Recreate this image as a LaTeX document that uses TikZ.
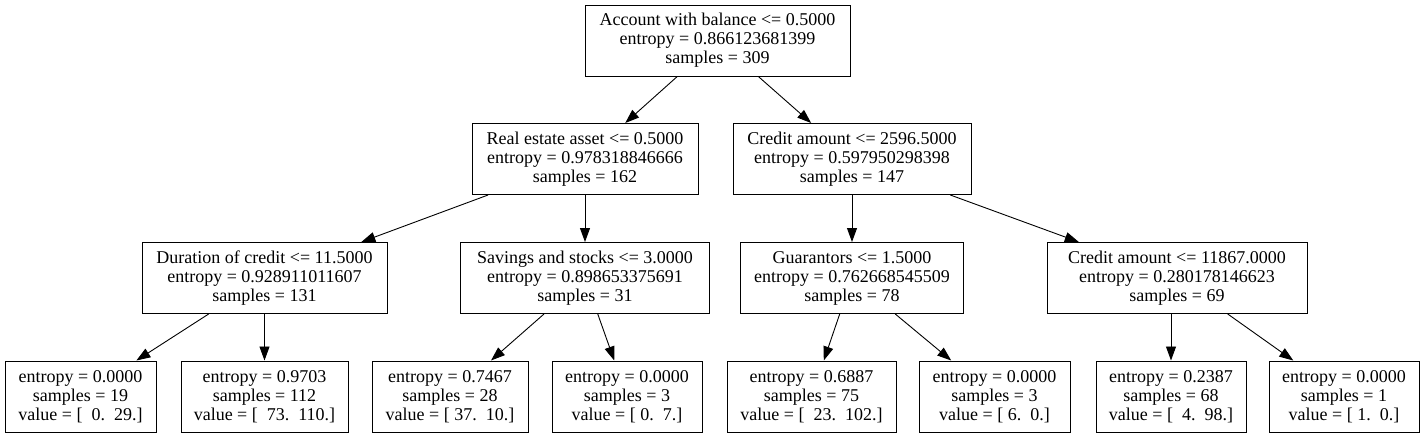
\documentclass[tikz,border=0pt]{standalone}
\usepackage{fontspec}
\setmainfont{Liberation Serif}
\usetikzlibrary{arrows.meta}
\tikzset{
  tbox/.style={draw, line width=1pt, rectangle, inner sep=0pt, align=center,
    minimum height=71pt, font=\fontsize{18}{19}\selectfont},
  edge/.style={-{Triangle[length=14pt,width=10pt]}, line width=0.9pt}
}
\begin{document}
\begin{tikzpicture}[x=1pt,y=-1pt]
\useasboundingbox[fill=white] (0,0) rectangle (1425,437);
\node[tbox, minimum width=265pt] (root) at (717.5,40.5) {Account with balance <= 0.5000\\entropy = 0.866123681399\\samples = 309};
\node[tbox, minimum width=226pt] (re) at (585,159) {Real estate asset <= 0.5000\\entropy = 0.978318846666\\samples = 162};
\node[tbox, minimum width=238pt] (ca1) at (852,159) {Credit amount <= 2596.5000\\entropy = 0.597950298398\\samples = 147};
\node[tbox, minimum width=245pt] (dur) at (264.5,278) {Duration of credit <= 11.5000\\entropy = 0.928911011607\\samples = 131};
\node[tbox, minimum width=249pt] (sav) at (585,278) {Savings and stocks <= 3.0000\\entropy = 0.898653375691\\samples = 31};
\node[tbox, minimum width=223pt] (gua) at (852,278) {Guarantors <= 1.5000\\entropy = 0.762668545509\\samples = 78};
\node[tbox, minimum width=260pt] (ca2) at (1177,278) {Credit amount <= 11867.0000\\entropy = 0.280178146623\\samples = 69};
\node[tbox, minimum width=151pt] (l1) at (80.5,396.5) {entropy = 0.0000\\samples = 19\\value = [\ \ 0.\ \ 29.]};
\node[tbox, minimum width=167pt] (l2) at (264.5,396.5) {entropy = 0.9703\\samples = 112\\value = [\ \ 73.\ \ 110.]};
\node[tbox, minimum width=156pt] (l3) at (450,396.5) {entropy = 0.7467\\samples = 28\\value = [ 37.\ \ 10.]};
\node[tbox, minimum width=150pt] (l4) at (627,396.5) {entropy = 0.0000\\samples = 3\\value = [ 0.\ \ 7.]};
\node[tbox, minimum width=169pt] (l5) at (811.5,396.5) {entropy = 0.6887\\samples = 75\\value = [\ \ 23.\ \ 102.]};
\node[tbox, minimum width=151pt] (l6) at (994.5,396.5) {entropy = 0.0000\\samples = 3\\value = [ 6.\ \ 0.]};
\node[tbox, minimum width=150pt] (l7) at (1171,396.5) {entropy = 0.2387\\samples = 68\\value = [\ \ 4.\ \ 98.]};
\node[tbox, minimum width=150pt] (l8) at (1344,396.5) {entropy = 0.0000\\samples = 1\\value = [ 1.\ \ 0.]};
\draw[edge] (root) -- (re);
\draw[edge] (root) -- (ca1);
\draw[edge] (re) -- (dur);
\draw[edge] (re) -- (sav);
\draw[edge] (ca1) -- (gua);
\draw[edge] (ca1) -- (ca2);
\draw[edge] (dur) -- (l1);
\draw[edge] (dur) -- (l2);
\draw[edge] (sav) -- (l3);
\draw[edge] (sav) -- (l4);
\draw[edge] (gua) -- (l5);
\draw[edge] (gua) -- (l6);
\draw[edge] (l7.north |- ca2.south) -- (l7);
\draw[edge] (ca2) -- (l8);
\end{tikzpicture}
\end{document}
